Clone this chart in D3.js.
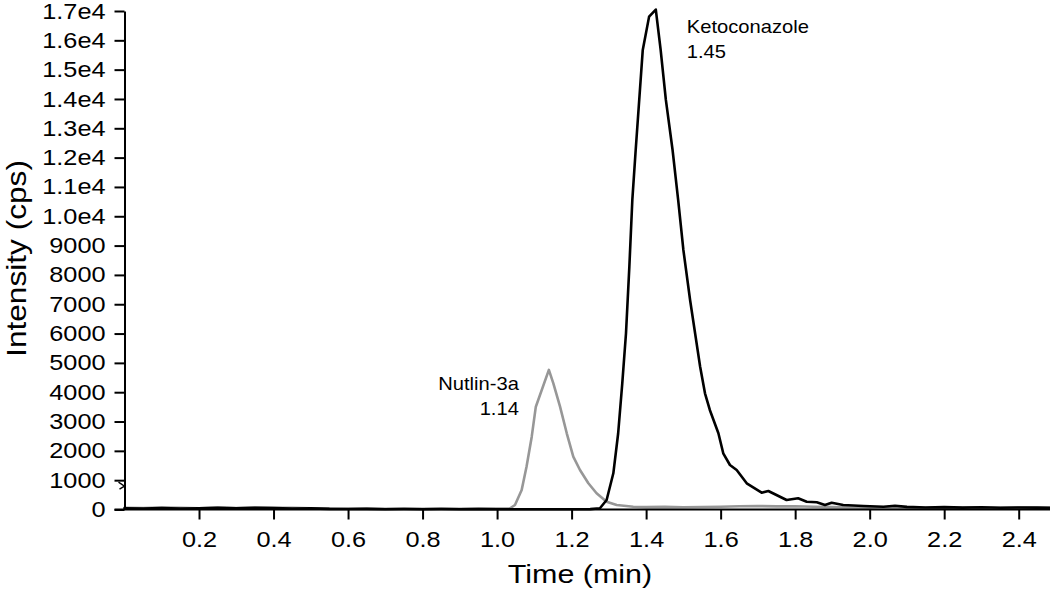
<!DOCTYPE html>
<html>
<head>
<meta charset="utf-8">
<script src="https://cdn.jsdelivr.net/npm/d3@7"></script>
<style>
  html, body { margin: 0; padding: 0; background: #fff; }
  svg { display: block; }
  text { font-family: "Liberation Sans", Arial, Helvetica, sans-serif; fill: #000; }
</style>
</head>
<body>
<svg id="chart" width="1050" height="593"></svg>
<script>
// ---- Data ----
const xTickValues = [0.2, 0.4, 0.6, 0.8, 1.0, 1.2, 1.4, 1.6, 1.8, 2.0, 2.2, 2.4];
const yTickValues = [0, 1000, 2000, 3000, 4000, 5000, 6000, 7000, 8000, 9000, 10000, 11000, 12000, 13000, 14000, 15000, 16000, 17000];
const yTickLabels = ["0", "1000", "2000", "3000", "4000", "5000", "6000", "7000", "8000", "9000",
                     "1.0e4", "1.1e4", "1.2e4", "1.3e4", "1.4e4", "1.5e4", "1.6e4", "1.7e4"];

const ketoTime = [0.00, 0.05, 0.10, 0.15, 0.20, 0.25, 0.30, 0.35, 0.40, 0.45, 0.50, 0.55, 0.60, 0.65, 0.70, 0.75,
  0.80, 0.85, 0.90, 0.95, 1.00, 1.05, 1.10, 1.15, 1.20, 1.25,
  1.276, 1.294, 1.312, 1.325, 1.336, 1.346, 1.355, 1.363, 1.372, 1.391, 1.408, 1.426,
  1.439, 1.453, 1.471, 1.486, 1.500, 1.518, 1.545, 1.558, 1.571, 1.594, 1.607, 1.625, 1.643, 1.670,
  1.710, 1.728, 1.777, 1.808, 1.831, 1.858, 1.880, 1.898, 1.929, 1.983, 2.037, 2.068,
  2.10, 2.15, 2.20, 2.25, 2.30, 2.35, 2.40, 2.45, 2.484];
const ketoIntensity = [40, 35, 50, 30, 45, 60, 40, 55, 50, 35, 40, 20, 15, 20, 10, 15,
  10, 15, 10, 12, 10, 10, 8, 10, 8, 12,
  41, 324, 1235, 2600, 4304, 6010, 8281, 10556, 12261, 15672, 16808, 17050,
  15672, 13967, 12261, 10556, 8851, 7145, 4870, 3963, 3394, 2599, 1917, 1518, 1347, 894,
  573, 631, 324, 382, 266, 246, 153, 232, 153, 119, 95, 130,
  90, 70, 80, 65, 75, 60, 70, 65, 60];

const nutTime = [0.00, 0.05, 0.10, 0.15, 0.20, 0.25, 0.30, 0.35, 0.40, 0.45, 0.50, 0.55, 0.60, 0.65, 0.70, 0.75,
  0.80, 0.85, 0.90, 0.95, 1.00,
  1.035, 1.048, 1.066, 1.079, 1.093, 1.104, 1.139, 1.151, 1.169, 1.187, 1.2045, 1.2225, 1.245, 1.267,
  1.294, 1.321, 1.3655,
  1.40, 1.45, 1.50, 1.55, 1.60, 1.65, 1.70, 1.75, 1.80, 1.85, 1.90, 1.95, 2.00, 2.05, 2.10, 2.15,
  2.20, 2.25, 2.30, 2.35, 2.40, 2.45, 2.484];
const nutIntensity = [60, 50, 70, 55, 40, 65, 50, 70, 55, 60, 45, 30, 25, 35, 25, 30,
  25, 30, 25, 30, 30,
  41, 153, 665, 1460, 2483, 3506, 4760, 4304, 3506, 2599, 1801, 1347, 894, 553,
  266, 153, 95,
  80, 90, 75, 85, 95, 110, 120, 105, 110, 95, 80, 70, 60, 75, 60, 55,
  65, 55, 70, 60, 65, 55, 60];

const peakLabels = [
  { name: "Nutlin-3a", rt: "1.14", peakTime: 1.139, peakValue: 4760 },
  { name: "Ketoconazole", rt: "1.45", peakTime: 1.426, peakValue: 17050 }
];
const thresholdValue = 830;

// ---- Chart ----
const svg = d3.select("#chart");
const W = 1050, H = 593;
const x = d3.scaleLinear().domain([0, 2.484]).range([124.5, 1050]);
const y = d3.scaleLinear().domain([0, 17000]).range([509.5, 11]);
const SX = 1.15; // horizontal glyph stretch of the reference font

// lines
const line = d3.line().x(d => x(d[0])).y(d => y(d[1]));
const nutData = nutTime.map((t, i) => [t, nutIntensity[i]]);
const ketoData = ketoTime.map((t, i) => [t, ketoIntensity[i]]);

svg.append("path").datum(nutData)
  .attr("d", line).attr("fill", "none")
  .attr("stroke", "#979797").attr("stroke-width", 2.6)
  .attr("stroke-linejoin", "round").attr("stroke-linecap", "round");
svg.append("path").datum(ketoData)
  .attr("d", line).attr("fill", "none")
  .attr("stroke", "#000").attr("stroke-width", 2.6)
  .attr("stroke-linejoin", "round").attr("stroke-linecap", "round");

// axes
const xAxis = d3.axisBottom(x).tickValues(xTickValues).tickFormat(d3.format(".1f"))
  .tickSizeInner(10).tickSizeOuter(0).tickPadding(9);
const yAxis = d3.axisLeft(y).tickValues(yTickValues).tickFormat((d, i) => yTickLabels[i])
  .tickSizeInner(10).tickSizeOuter(0).tickPadding(9);

const gx = svg.append("g").attr("transform", `translate(0,${y(0)})`).call(xAxis);
const gy = svg.append("g").attr("transform", `translate(${x(0)},0)`).call(yAxis);

[gx, gy].forEach(g => {
  g.select(".domain").attr("stroke", "#000").attr("stroke-width", 2);
  g.selectAll(".tick line").attr("stroke", "#000").attr("stroke-width", 2);
  g.selectAll(".tick text")
    .style("font-family", '"Liberation Sans", Arial, sans-serif')
    .attr("font-size", 22).attr("fill", "#000");
});
// extend x axis line to the left edge of the y tick marks
gx.select(".domain").attr("d", `M${x(0) - 10},0H${W}`);

gy.selectAll(".tick text").each(function() {
  const t = d3.select(this);
  const xx = +t.attr("x");
  t.attr("x", xx / SX).attr("transform", `scale(${SX},1)`);
});
gx.selectAll(".tick text").attr("dy", null).attr("y", 0)
  .attr("transform", `translate(0,37) scale(${SX},1)`);

// threshold marker near 1000
const ty = y(thresholdValue);
svg.append("path")
  .attr("d", `M${x(0) - 6},${ty - 3}L${x(0)},${ty + 1}L${x(0) - 5},${ty + 4}`)
  .attr("fill", "none").attr("stroke", "#000").attr("stroke-width", 1.4);

// axis titles
svg.append("text")
  .attr("transform", `translate(580,583) scale(${SX},1)`)
  .attr("text-anchor", "middle").attr("font-size", 26.5)
  .text("Time (min)");
svg.append("text")
  .attr("transform", `translate(25.5,258.5) rotate(-90) scale(1.13,1)`)
  .attr("text-anchor", "middle").attr("font-size", 28)
  .text("Intensity (cps)");

// peak annotations
const nut = peakLabels[0], keto = peakLabels[1];
const nutG = svg.append("g")
  .attr("transform", `translate(${x(nut.peakTime) - 30},${y(nut.peakValue) + 20})`);
nutG.append("text").attr("transform", `scale(1.12,1)`).attr("text-anchor", "end")
  .attr("font-size", 18).text(nut.name);
nutG.append("text").attr("transform", `translate(0,25.5) scale(1.12,1)`).attr("text-anchor", "end")
  .attr("font-size", 18).text(nut.rt);

const ketoG = svg.append("g")
  .attr("transform", `translate(${x(keto.peakTime) + 31},${y(keto.peakValue) + 23})`);
ketoG.append("text").attr("transform", `scale(1.12,1)`).attr("text-anchor", "start")
  .attr("font-size", 18).text(keto.name);
ketoG.append("text").attr("transform", `translate(0,25.5) scale(1.12,1)`).attr("text-anchor", "start")
  .attr("font-size", 18).text(keto.rt);
</script>
</body>
</html>
